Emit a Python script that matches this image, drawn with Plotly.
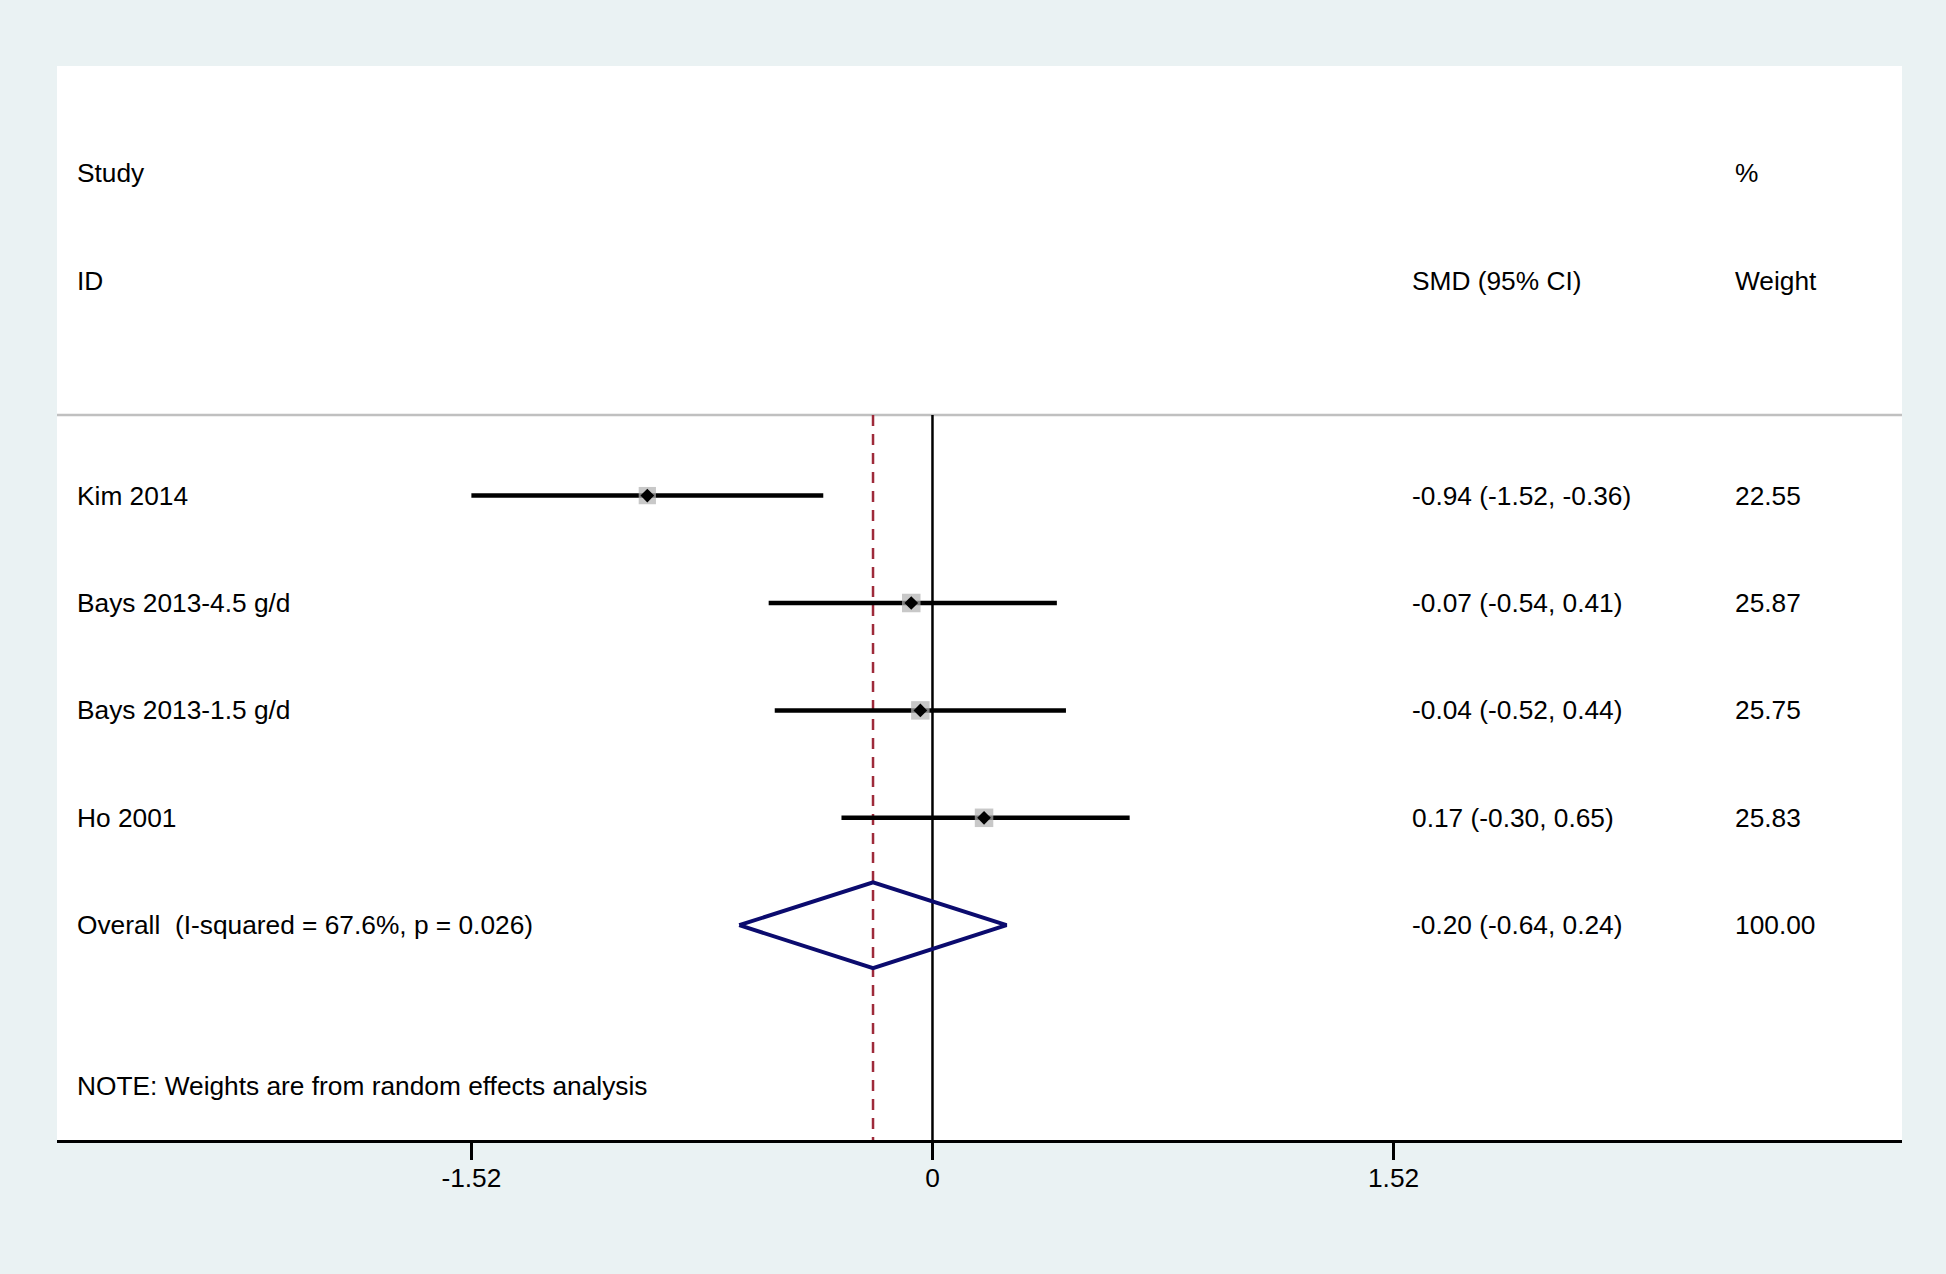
import plotly.graph_objects as go

# ---- data ----
studies = ["Kim 2014", "Bays 2013-4.5 g/d", "Bays 2013-1.5 g/d", "Ho 2001"]
smd = [-0.94, -0.07, -0.04, 0.17]
ci_low = [-1.52, -0.54, -0.52, -0.30]
ci_high = [-0.36, 0.41, 0.44, 0.65]
weights = [22.55, 25.87, 25.75, 25.83]

overall_label = "Overall\u00a0\u00a0(I-squared = 67.6%, p = 0.026)"
overall_smd = -0.196
overall_low = -0.637
overall_high = 0.244
overall_weight = 100.00

note = "NOTE: Weights are from random effects analysis"
tick_vals = [-1.52, 0, 1.52]
tick_text = ["-1.52", "0", "1.52"]

# ---- layout constants ----
W, H = 1946, 1274
ML, MR, MT, MB = 57, 44, 66, 134
XR = [-2.886, 3.196]
YR = [7, -3]
FONT = "Liberation Sans, Arial, Helvetica, sans-serif"
FS = 26.3
BG = "#EAF2F3"

rows = list(range(1, len(studies) + 1))
overall_row = len(studies) + 1
note_row = overall_row + 1.5
sep_row = 0.25

fig = go.Figure()

# header separator
fig.add_trace(go.Scatter(x=XR, y=[sep_row, sep_row], mode="lines",
                         line=dict(color="#c0c0c0", width=2.5), hoverinfo="skip"))
# zero line
fig.add_trace(go.Scatter(x=[0, 0], y=[sep_row, YR[0]], mode="lines",
                         line=dict(color="black", width=2.5), hoverinfo="skip"))
# overall effect dashed line
fig.add_trace(go.Scatter(x=[overall_smd, overall_smd], y=[sep_row, YR[0]], mode="lines",
                         line=dict(color="#9e2a3a", width=2.5, dash="11px,8px"),
                         hoverinfo="skip"))
# CI lines
for r, lo, hi in zip(rows, ci_low, ci_high):
    fig.add_trace(go.Scatter(x=[lo, hi], y=[r, r], mode="lines",
                             line=dict(color="black", width=4.5), hoverinfo="skip"))
# weight boxes
box_sizes = [18.5 * (w / 25.83) ** 0.5 for w in weights]
fig.add_trace(go.Scatter(x=smd, y=rows, mode="markers",
                         marker=dict(symbol="square", size=box_sizes, color="#b0b0b0",
                                     line=dict(width=0)), hoverinfo="skip"))
# point estimates
fig.add_trace(go.Scatter(x=smd, y=rows, mode="markers",
                         marker=dict(symbol="diamond", size=10.5, color="black",
                                     line=dict(width=0)), hoverinfo="skip"))
# overall diamond
dh = 0.4
fig.add_trace(go.Scatter(
    x=[overall_low, overall_smd, overall_high, overall_smd, overall_low],
    y=[overall_row, overall_row - dh, overall_row, overall_row + dh, overall_row],
    mode="lines", line=dict(color="#0b0b6e", width=4), hoverinfo="skip"))

# ---- text columns ----
x_study, x_smd, x_w = -2.828, 1.575, 2.639
ann = []
def txt(x, y, s):
    ann.append(dict(x=x, y=y, xref="x", yref="y", text=s, showarrow=False,
                    xanchor="left", yanchor="middle",
                    font=dict(family=FONT, size=FS, color="black")))

txt(x_study, -2, "Study")
txt(x_study, -1, "ID")
txt(x_smd, -1, "SMD (95% CI)")
txt(x_w, -2, "%")
txt(x_w, -1, "Weight")
for r, s, e, lo, hi, w in zip(rows, studies, smd, ci_low, ci_high, weights):
    txt(x_study, r, s)
    txt(x_smd, r, f"{e:.2f} ({lo:.2f}, {hi:.2f})")
    txt(x_w, r, f"{w:.2f}")
txt(x_study, overall_row, overall_label)
txt(x_smd, overall_row, f"{overall_smd:.2f} ({overall_low:.2f}, {overall_high:.2f})")
txt(x_w, overall_row, f"{overall_weight:.2f}")
txt(x_study, note_row, note)

fig.update_layout(
    width=W, height=H,
    margin=dict(l=ML, r=MR, t=MT, b=MB, pad=0),
    paper_bgcolor=BG, plot_bgcolor="white",
    showlegend=False,
    annotations=ann,
    xaxis=dict(range=XR, tickvals=tick_vals, ticktext=tick_text,
               showgrid=False, zeroline=False, showline=True, linecolor="black",
               linewidth=3, ticks="outside", ticklen=17, tickwidth=2.5,
               ticklabelstandoff=-5,
               tickcolor="black", tickfont=dict(family=FONT, size=FS, color="black")),
    yaxis=dict(range=YR, showgrid=False, zeroline=False, showticklabels=False,
               showline=False, ticks=""),
)

fig.write_html("out.html", config={"displayModeBar": False},
               post_script="document.body.style.margin='0';document.body.style.background='#EAF2F3';")
